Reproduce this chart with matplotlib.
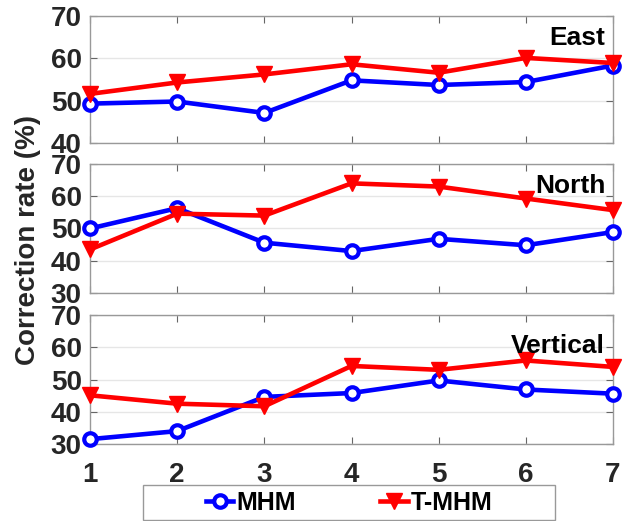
import matplotlib.pyplot as plt
from matplotlib.patches import Rectangle

plt.rcParams['font.family'] = ['Liberation Sans', 'DejaVu Sans']
plt.rcParams['font.weight'] = 'bold'

x = [1, 2, 3, 4, 5, 6, 7]

east_mhm = [49.3, 49.8, 47.1, 54.8, 53.7, 54.4, 58.3]
east_tmhm = [51.6, 54.3, 56.2, 58.6, 56.6, 60.1, 58.9]
north_mhm = [50.0, 56.3, 45.6, 43.0, 46.8, 44.8, 48.9]
north_tmhm = [43.5, 54.6, 54.0, 64.0, 63.0, 59.3, 55.7]
vert_mhm = [31.5, 34.0, 44.6, 45.8, 49.7, 46.9, 45.6]
vert_tmhm = [45.1, 42.5, 41.7, 54.2, 53.0, 55.9, 53.9]

panels = ['East', 'North', 'Vertical']
ylims = [(40, 70), (30, 70), (30, 70)]
ytks = [[40, 50, 60, 70], [30, 40, 50, 60, 70], [30, 40, 50, 60, 70]]
data = [(east_mhm, east_tmhm), (north_mhm, north_tmhm), (vert_mhm, vert_tmhm)]
label_y = [0.83, 0.83, 0.76]

fig = plt.figure(figsize=(6.23, 5.21), dpi=100)
W, H = 623, 521
# axes boxes in pixels (top, bottom)
rows = [(16, 143), (164, 293), (315, 444)]
left, right = 90, 613

for i, (t, b) in enumerate(rows):
    ax = fig.add_axes([left / W, 1 - b / H, (right - left) / W, (b - t) / H])
    m, tm = data[i]
    l1, = ax.plot(x, m, '-o', color='blue', lw=3.3, ms=9, mew=3, mfc='white',
                  label='MHM', clip_on=False, zorder=3)
    l2, = ax.plot(x, tm, '-v', color='red', lw=3.3, ms=12,
                  label='T-MHM', clip_on=False, zorder=3)
    ax.set_xlim(1, 7)
    ax.set_ylim(*ylims[i])
    ax.set_yticks(ytks[i])
    ax.set_xticks(x)
    ax.grid(axis='y', color='#e6e6e6', lw=1)
    ax.set_axisbelow(True)
    ax.tick_params(direction='in', top=True, right=True, length=5, color='#666666',
                   labelsize=20, labelcolor='#262626')
    ax.tick_params(axis='x', pad=13)
    ax.tick_params(axis='y', pad=6)
    for s in ax.spines.values():
        s.set_color('#999999')
        s.set_linewidth(1)
    if i < 2:
        ax.set_xticklabels([])
    for lab in ax.get_xticklabels() + ax.get_yticklabels():
        lab.set_fontweight('bold')
    ax.text(0.985, label_y[i], panels[i], transform=ax.transAxes, ha='right', va='center',
            fontsize=19, fontweight='bold', color='black')

fig.text(28 / W, 1 - 240 / H, 'Correction rate (%)', rotation=90, ha='center', va='center',
         fontsize=20, fontweight='bold', color='#262626')

# legend box
fig.patches.append(Rectangle((143 / W, 1 - 520 / H), 412 / W, 35 / H, transform=fig.transFigure,
                             fill=False, edgecolor='#999999', lw=1))
leg = fig.legend(handles=[l1, l2], loc='center', bbox_to_anchor=(349 / W, 1 - 503 / H),
                 ncol=2, frameon=False, fontsize=18, handlelength=1.1,
                 columnspacing=3.4, handletextpad=0.1)
for txt in leg.get_texts():
    txt.set_fontweight('bold')
    txt.set_color('black')

fig.savefig('out.png', dpi=100)
